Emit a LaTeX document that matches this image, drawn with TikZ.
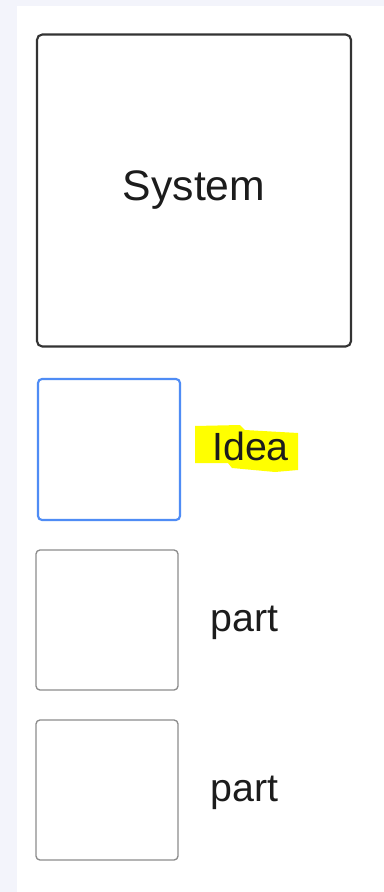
\documentclass[tikz,border=0pt]{standalone}
\usepackage{fontspec}
\setmainfont{Liberation Sans}
\definecolor{bgl}{HTML}{F3F4FB}
\definecolor{ideablue}{HTML}{4F8CF5}
\definecolor{partgray}{HTML}{8C8C8C}
\definecolor{sysgray}{HTML}{333333}
\definecolor{txt}{HTML}{1C1C1C}
\definecolor{hl}{HTML}{FFFF00}
\begin{document}
\begin{tikzpicture}[x=0.75pt,y=-0.75pt,
  sysbox/.style={draw=sysgray,line width=1.6pt,rounded corners=4pt,fill=white,
    minimum width=235.5pt,minimum height=234pt,inner sep=0pt,
    font=\fontsize{32}{36}\selectfont,text=txt},
  ideabox/.style={draw=ideablue,line width=1.6pt,rounded corners=3pt,fill=white,
    minimum width=106.5pt,minimum height=105.75pt,inner sep=0pt},
  partbox/.style={draw=partgray,line width=1pt,rounded corners=3pt,fill=white,
    minimum width=106.5pt,minimum height=105pt,inner sep=0pt},
  lbl/.style={font=\fontsize{29.5}{34}\selectfont,text=txt,inner sep=0pt,anchor=base west}]
\useasboundingbox (0,0) rectangle (384,892);
\fill[bgl] (0,0) rectangle (384,892);
\fill[white] (17,6) rectangle (384,892);
\node[sysbox] (sys) at (194,190.5) {System};
\node[ideabox] (idea) at (109,449.5) {};
\fill[hl] (195,426) -- (240,425) -- (245,430) -- (298,433) -- (298,470) -- (275,472) -- (232,468) -- (228,463) -- (195,463) -- cycle;
\node[lbl] (idealbl) at (212,460) {Idea};
\node[partbox] (p1) at (107,620) {};
\node[lbl] (p1lbl) at (210,631) {part};
\node[partbox] (p2) at (107,790) {};
\node[lbl] (p2lbl) at (210,801) {part};
\end{tikzpicture}
\end{document}
